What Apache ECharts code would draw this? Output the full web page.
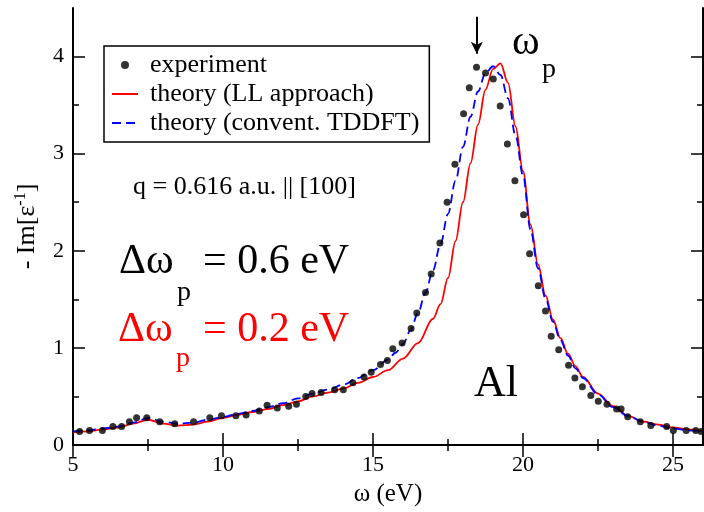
<!DOCTYPE html>
<html><head><meta charset="utf-8">
<script src="https://cdn.jsdelivr.net/npm/echarts@6/dist/echarts.min.js"></script>
<style>html,body{margin:0;padding:0;background:#fff}#c{width:704px;height:512px}</style>
</head><body><div id="c"></div>
<script>
// experiment: -Im[1/eps] vs omega (eV)
const expX = [5.22,5.55,5.98,6.33,6.62,6.88,7.12,7.46,7.89,8.39,9.02,9.56,9.95,10.43,10.77,11.21,11.47,11.81,12.19,12.45,12.76,12.97,13.27,13.72,14.01,14.33,14.70,14.94,15.25,15.48,15.66,15.97,16.27,16.46,16.75,16.94,17.23,17.47,17.73,18.02,18.21,18.45,18.75,19.01,19.24,19.48,19.73,20.02,20.22,20.51,20.75,20.94,21.19,21.52,21.73,21.98,22.26,22.51,22.80,23.12,23.27,23.49,23.91,24.26,24.79,25.01,25.44,25.76,25.94];
const expY = [0.14,0.15,0.15,0.19,0.19,0.24,0.28,0.28,0.24,0.22,0.24,0.28,0.30,0.30,0.31,0.35,0.41,0.38,0.40,0.42,0.50,0.53,0.54,0.57,0.57,0.64,0.70,0.75,0.83,0.87,0.99,1.05,1.20,1.36,1.57,1.76,2.08,2.50,2.89,3.41,3.68,3.89,3.83,3.77,3.49,3.10,2.72,2.37,1.97,1.64,1.38,1.12,0.98,0.82,0.69,0.60,0.51,0.45,0.42,0.37,0.37,0.29,0.24,0.20,0.19,0.15,0.15,0.15,0.14];
// theory (LL approach)
const llX = [5.0,5.5,6.0,6.5,7.0,7.5,8.0,8.5,9.0,9.5,10.0,10.5,11.0,11.5,12.0,12.5,13.0,13.5,14.0,14.5,15.0,15.5,16.0,16.5,17.0,17.25,17.5,17.75,18.0,18.25,18.5,18.75,19.0,19.25,19.5,19.75,20.0,20.25,20.5,20.75,21.0,21.25,21.5,21.75,22.0,22.5,23.0,23.5,24.0,24.5,25.0,25.5,26.0];
const llY = [0.13,0.14,0.16,0.18,0.22,0.26,0.22,0.20,0.21,0.24,0.28,0.31,0.34,0.37,0.41,0.45,0.50,0.54,0.58,0.64,0.70,0.77,0.89,1.05,1.30,1.45,1.72,2.10,2.50,2.90,3.30,3.66,3.87,3.93,3.73,3.28,2.82,2.27,1.86,1.54,1.29,1.10,0.94,0.81,0.70,0.53,0.40,0.30,0.24,0.21,0.18,0.16,0.14];
// theory (convent. TDDFT)
const tdX = [5.0,5.5,6.0,6.5,7.0,7.5,8.0,8.5,9.0,9.5,10.0,10.5,11.0,11.5,12.0,12.5,13.0,13.5,14.0,14.5,15.0,15.5,15.75,16.0,16.25,16.5,16.75,17.0,17.25,17.5,17.75,18.0,18.25,18.5,18.75,19.0,19.25,19.5,19.75,20.0,20.25,20.5,20.75,21.0,21.25,21.5,21.75,22.0,22.5,23.0,23.5,24.0,24.5,25.0,25.5,26.0];
const tdY = [0.14,0.15,0.17,0.19,0.23,0.28,0.24,0.22,0.23,0.26,0.29,0.32,0.35,0.39,0.43,0.48,0.53,0.57,0.62,0.69,0.77,0.88,0.95,1.04,1.18,1.36,1.57,1.80,2.07,2.38,2.72,3.07,3.38,3.64,3.83,3.90,3.81,3.57,3.19,2.78,2.22,1.82,1.51,1.27,1.08,0.92,0.79,0.69,0.52,0.39,0.30,0.24,0.20,0.17,0.15,0.14];
const xMajor = [5,10,15,20,25];
const xMinor = [7.5,12.5,17.5,22.5];
const yMajor = [0,1,2,3,4];
const yMinor = [0.5,1.5,2.5,3.5];

const zip = (a,b) => a.map((v,i)=>[v,b[i]]);
const F = '"Liberation Serif", "Times New Roman", serif';
const chart = echarts.init(document.getElementById('c'));
const XMIN=5, XMAX=26, YMIN=0, YMAX=4.5;
function xa(pos, vals, len, labels, line){
  return {type:'value', position:pos, min:XMIN, max:XMAX,
    axisLine:{show:line, lineStyle:{color:'#000', width:2}},
    axisTick:{show:true, inside:true, length:len, customValues:vals, lineStyle:{color:'#000', width:1.5}},
    axisLabel:{show:labels, customValues:vals, margin:9, color:'#000', fontFamily:F, fontSize:22},
    splitLine:{show:false}};
}
function ya(pos, vals, len, labels, line){
  return {type:'value', position:pos, min:YMIN, max:YMAX,
    axisLine:{show:line, lineStyle:{color:'#000', width:2}},
    axisTick:{show:true, inside:true, length:len, customValues:vals, lineStyle:{color:'#000', width:1.5}},
    axisLabel:{show:labels, customValues:vals, margin:9, color:'#000', fontFamily:F, fontSize:22},
    splitLine:{show:false}};
}
const xMain = xa('bottom', xMajor, 12, true, true);
xMain.name = 'ω (eV)'; xMain.nameLocation='middle'; xMain.nameGap=37;
xMain.nameTextStyle = {fontFamily:F, fontSize:25, color:'#000'};
const yMain = ya('left', yMajor, 12, true, true);
yMain.name = '- Im[ε{s|-1}]'; yMain.nameLocation='middle'; yMain.nameGap=31;
yMain.nameTextStyle = {fontFamily:F, fontSize:26, color:'#000', rich:{s:{fontFamily:F, fontSize:16, color:'#000', verticalAlign:'top', padding:[0,0,13,0]}}};

const option = {
  animation:false,
  backgroundColor:'#fff',
  grid:{left:73, right:1, top:8, bottom:61, containLabel:false},
  xAxis:[xMain, xa('bottom', xMinor, 6, false, false), xa('top', xMajor, 12, false, true), xa('top', xMinor, 6, false, false)],
  yAxis:[yMain, ya('left', yMinor, 6, false, false), ya('right', yMajor, 12, false, true), ya('right', yMinor, 6, false, false)],
  legend:{
    orient:'vertical', left:104, top:46, padding:[6,10,6,7],
    backgroundColor:'#fff', borderColor:'#000', borderWidth:1.5, borderRadius:0,
    itemWidth:26, itemHeight:8, itemGap:3,
    textStyle:{fontFamily:F, fontSize:26, color:'#000', lineHeight:22, padding:[0,0,0,7]},
    data:[{name:'experiment', icon:'circle'},
          {name:'theory (LL approach)', itemStyle:{opacity:0}},
          {name:'theory (convent. TDDFT)', itemStyle:{opacity:0}}]
  },
  series:[
    {name:'theory (LL approach)', type:'line', data:zip(llX,llY), symbol:'none', smooth:0.35, smoothMonotone:'x',
     lineStyle:{color:'#ff0000', width:1.8}, itemStyle:{color:'#ff0000'}, z:3},
    {name:'theory (convent. TDDFT)', type:'line', data:zip(tdX,tdY), symbol:'none', smooth:0.35, smoothMonotone:'x',
     lineStyle:{color:'#0000ff', width:1.8, type:[9,5]}, itemStyle:{color:'#0000ff'}, z:3},
    {name:'experiment', type:'scatter', data:zip(expX,expY), symbol:'circle', symbolSize:7,
     itemStyle:{color:'#000'}, z:4,
     markLine:{silent:true, symbol:['none','arrow'], symbolSize:[9,12], label:{show:false},
       lineStyle:{color:'#000', width:2, type:'solid'},
       data:[[{coord:[18.46,4.41]},{coord:[18.46,4.03]}]]}}
  ],
  graphic:[
    {type:'text', left:512, top:22, style:{text:'ω', font:'42px '+F, fill:'#000'}},
    {type:'text', left:542, top:56, style:{text:'p', font:'28px '+F, fill:'#000'}},
    {type:'text', left:133, top:174, style:{text:'q = 0.616 a.u. || [100]', font:'26px '+F, fill:'#000'}},
    {type:'text', left:119, top:241, style:{text:'Δω', font:'42px '+F, fill:'#000'}},
    {type:'text', left:177, top:279, style:{text:'p', font:'28px '+F, fill:'#000'}},
    {type:'text', left:203, top:241, style:{text:'= 0.6 eV', font:'42px '+F, fill:'#000'}},
    {type:'text', left:118, top:309, style:{text:'Δω', font:'42px '+F, fill:'#ff0000'}},
    {type:'text', left:176, top:345, style:{text:'p', font:'28px '+F, fill:'#ff0000'}},
    {type:'text', left:203, top:309, style:{text:'= 0.2 eV', font:'42px '+F, fill:'#ff0000'}},
    {type:'text', left:474, top:362, style:{text:'Al', font:'44px '+F, fill:'#000'}}
  ]
};
chart.setOption(option);
</script></body></html>
